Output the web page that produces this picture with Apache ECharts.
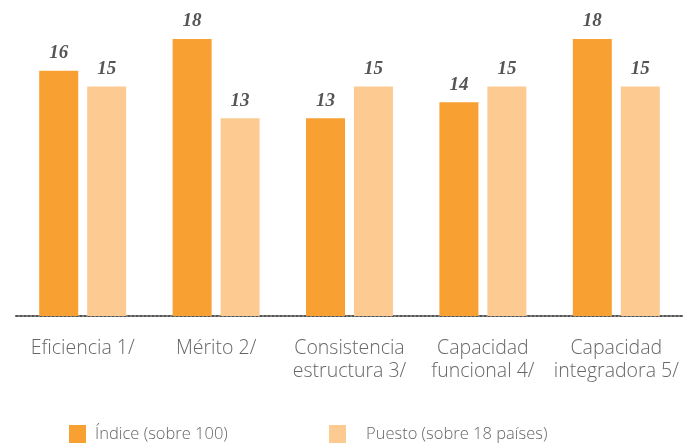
<!DOCTYPE html>
<html>
<head>
<meta charset="utf-8">
<script src="https://cdn.jsdelivr.net/npm/echarts@6/dist/echarts.min.js"></script>
<style>
  html, body { margin: 0; padding: 0; background: #fff; }
  #chart { width: 683px; height: 444px; }
</style>
</head>
<body>
<div id="chart"></div>
<script>
  // categorias y valores
  const categories = ['Eficiencia 1/', 'Mérito 2/', 'Consistencia\nestructura 3/', 'Capacidad\nfuncional 4/', 'Capacidad\nintegradora 5/'];
  const indiceValues = [16, 18, 13, 14, 18];
  const puestoValues = [15, 13, 15, 15, 15];
  const seriesNames = ['Índice (sobre 100)', 'Puesto (sobre 18 países)'];

  const dark = '#F9A033';
  const light = '#FDCB91';

  const chart = echarts.init(document.getElementById('chart'));

  const labelStyle = {
    show: true,
    position: 'top',
    distance: 8,
    color: '#555',
    fontFamily: 'Liberation Serif',
    fontStyle: 'italic',
    fontWeight: 'bold',
    fontSize: 19
  };

  const legendText = {
    color: '#666',
    fontFamily: 'Open Sans',
    fontWeight: 300,
    fontSize: 16.5,
    lineHeight: 18
  };

  const option = {
    animation: false,
    grid: {
      left: 16,
      right: 0,
      top: 39,
      height: 277
    },
    legend: [{
      data: [seriesNames[0]],
      left: 69,
      top: 425,
      padding: 0,
      itemWidth: 17,
      itemHeight: 18,
      icon: 'rect',
      textStyle: Object.assign({}, legendText, {padding: [0, 0, 0, 4]})
    }, {
      data: [seriesNames[1]],
      left: 329,
      top: 425,
      padding: 0,
      itemWidth: 17,
      itemHeight: 18,
      icon: 'rect',
      textStyle: Object.assign({}, legendText, {padding: [0, 0, 0, 15]})
    }],
    xAxis: {
      type: 'category',
      data: categories,
      axisTick: {show: false},
      axisLine: {
        lineStyle: {
          color: '#555',
          width: 2,
          type: [2, 2]
        }
      },
      axisLabel: {
        interval: 0,
        margin: 21,
        color: '#666',
        fontFamily: 'Open Sans',
        fontWeight: 300,
        fontSize: 19.5,
        lineHeight: 23
      }
    },
    yAxis: {
      type: 'value',
      min: 0.5,
      max: 18,
      show: false
    },
    series: [{
      name: seriesNames[0],
      type: 'bar',
      data: indiceValues,
      barWidth: 39,
      barGap: '23%',
      itemStyle: {color: dark},
      label: labelStyle
    }, {
      name: seriesNames[1],
      type: 'bar',
      data: puestoValues,
      barWidth: 39,
      itemStyle: {color: light},
      label: labelStyle
    }]
  };

  chart.setOption(option);
  window.onresize = chart.resize;
</script>
</body>
</html>
